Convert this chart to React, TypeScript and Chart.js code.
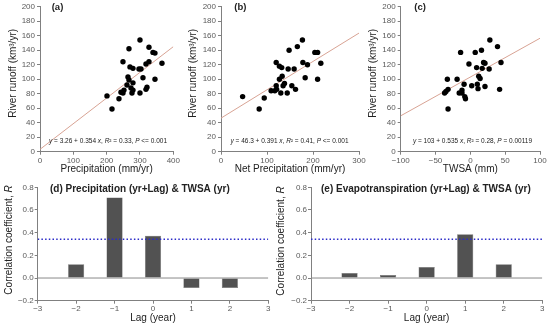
import React, { useEffect, useRef } from 'react';
import { Chart, registerables } from 'chart.js';
Chart.register(...registerables);

const FONT = '"Liberation Sans", Arial, Helvetica, sans-serif';

// ---------- data ----------
// (a) Precipitation vs river runoff
const precipitation = [300, 327, 267, 339, 345, 249, 366, 327, 318, 270, 279, 297, 303, 264, 309, 345, 267, 261, 279, 321, 318, 252, 273, 279, 243, 276, 300, 249, 201, 237, 216];
const runoffA = [154, 144, 142, 137, 136, 124, 122, 124, 121, 117, 115, 114, 114, 103, 102, 100, 99, 92, 95, 89, 86, 85, 88, 85, 82, 81, 81, 81, 77, 73, 59];
const fitA = { intercept: 3.26, slope: 0.354 };

// (b) Net precipitation vs river runoff
const netPrecipitation = [177, 148, 166, 204, 210, 120, 127, 132, 146, 159, 178, 188, 217, 133, 127, 183, 210, 138, 120, 135, 154, 121, 162, 109, 117, 130, 144, 94, 47, 83];
const runoffB = [154, 140, 145, 137, 137, 123, 118, 116, 114, 114, 123, 120, 122, 104, 100, 102, 100, 94, 91, 91, 91, 86, 86, 84, 84, 81, 81, 74, 76, 59];
const fitB = { intercept: 46.3, slope: 0.391 };

// (c) TWSA vs river runoff
const twsa = [28, 39, -14, 7, 16, 19, 21, -2, 9, 17, 27, 44, 12, 14, -33, -19, -9, 2, 10, 11, 21, 42, -12, -16, -12, -8, -7, -32, -35, -37, -32];
const runoffC = [154, 145, 137, 137, 140, 123, 122, 121, 116, 115, 114, 123, 104, 101, 100, 100, 93, 91, 93, 87, 90, 86, 85, 81, 81, 76, 73, 86, 83, 81, 59];
const fitC = { intercept: 103, slope: 0.535 };

// (d), (e) lag correlations
const lags = [-2, -1, 0, 1, 2];
const corrPrecipTwsa = [0.121, 0.711, 0.372, -0.089, -0.089];
const corrEtTwsa = [0.044, 0.027, 0.097, 0.387, 0.121];
const significanceLevel = 0.342;

// ---------- helpers ----------
type Seg = { t: string; it?: boolean };
type TextItem = { segs: Seg[]; x: number; y: number; size: number; bold?: boolean; center?: boolean; rot?: boolean; color?: string };

function makeTextPlugin(items: TextItem[]) {
  return {
    id: 'panelText',
    afterDraw(chart: any) {
      const ctx: CanvasRenderingContext2D = chart.ctx;
      items.forEach((item) => {
        ctx.save();
        const fontOf = (s: Seg) => `${s.it ? 'italic ' : ''}${item.bold ? 'bold ' : ''}${item.size}px ${FONT}`;
        let total = 0;
        const widths = item.segs.map((s) => {
          ctx.font = fontOf(s);
          const w = ctx.measureText(s.t).width;
          total += w;
          return w;
        });
        ctx.translate(item.x, item.y);
        if (item.rot) ctx.rotate(-Math.PI / 2);
        let cx = item.center ? -total / 2 : 0;
        ctx.textBaseline = 'middle';
        ctx.textAlign = 'left';
        ctx.fillStyle = item.color || '#222';
        item.segs.forEach((s, i) => {
          ctx.font = fontOf(s);
          ctx.fillText(s.t, cx, 0);
          cx += widths[i];
        });
        ctx.restore();
      });
    },
  };
}

const minus = (s: string) => s.replace('-', '\u2212');
const AXIS = '#808080';
const TICK = '#5a5a5a';

function fixedAxis(size: number, horizontal: boolean) {
  return (s: any) => {
    if (horizontal) s.height = size;
    else s.width = size;
    s.paddingTop = 0;
    s.paddingBottom = 0;
    s.paddingLeft = 0;
    s.paddingRight = 0;
  };
}

type Geo = { left: number; top: number; w: number; h: number; pad: { left: number; top: number; right: number; bottom: number }; yW: number; xH: number };

function scatterConfig(xs: number[], ys: number[], fit: { intercept: number; slope: number }, xMin: number, xMax: number, xStep: number, xTitle: string, geo: Geo, items: TextItem[]) {
  const pts = xs.map((x, i) => ({ x, y: ys[i] }));
  const line = [xMin, xMax].map((x) => ({ x, y: fit.intercept + fit.slope * x }));
  return {
    type: 'scatter',
    data: {
      datasets: [
        { data: pts, pointRadius: 2.7, pointBackgroundColor: '#000', pointBorderColor: '#000', pointBorderWidth: 0 },
        { type: 'line', data: line, borderColor: '#d8a394', borderWidth: 1, pointRadius: 0, showLine: true, fill: false },
      ],
    },
    options: {
      responsive: false,
      animation: false,
      devicePixelRatio: 1,
      layout: { padding: geo.pad },
      plugins: { legend: { display: false }, tooltip: { enabled: false } },
      scales: {
        x: {
          type: 'linear', min: xMin, max: xMax,
          ticks: { stepSize: xStep, autoSkip: false, maxRotation: 0, padding: 1, color: TICK, font: { family: FONT, size: 8 }, callback: (v: number) => minus(String(v)) },
          grid: { drawOnChartArea: false, drawTicks: true, tickLength: 3, color: AXIS },
          border: { display: true, color: AXIS, width: 1 },
          title: { display: true, text: xTitle, color: '#222', font: { family: FONT, size: 10 }, padding: { top: 0, bottom: 0 } },
          afterFit: fixedAxis(geo.xH, true),
        },
        y: {
          type: 'linear', min: 0, max: 200,
          ticks: { stepSize: 20, autoSkip: false, padding: 2, color: TICK, font: { family: FONT, size: 8 } },
          grid: { drawOnChartArea: false, drawTicks: true, tickLength: 3, color: AXIS },
          border: { display: true, color: AXIS, width: 1 },
          afterFit: fixedAxis(geo.yW, false),
        },
      },
    },
    plugins: [makeTextPlugin(items)],
  };
}

function barConfig(values: number[], geo: Geo, items: TextItem[]) {
  return {
    type: 'bar',
    data: {
      datasets: [
        { type: 'line', data: [{ x: -3, y: significanceLevel }, { x: 3, y: significanceLevel }], borderColor: '#2b2bc8', borderWidth: 1.5, borderDash: [1.5, 2.2], pointRadius: 0, fill: false },
        { type: 'bar', data: lags.map((l, i) => ({ x: l, y: values[i] })), backgroundColor: '#525252', borderColor: '#6a6a6a', borderWidth: 0.5, barPercentage: 0.42, categoryPercentage: 1 },
        { type: 'line', data: [{ x: -3, y: 0 }, { x: 3, y: 0 }], borderColor: '#8a8a8a', borderWidth: 1, pointRadius: 0, fill: false },
      ],
    },
    options: {
      responsive: false,
      animation: false,
      devicePixelRatio: 1,
      layout: { padding: geo.pad },
      plugins: { legend: { display: false }, tooltip: { enabled: false } },
      scales: {
        x: {
          type: 'linear', min: -3, max: 3, offset: false,
          ticks: { stepSize: 1, autoSkip: false, maxRotation: 0, padding: 0, color: TICK, font: { family: FONT, size: 8 }, callback: (v: number) => minus(String(v)) },
          grid: { drawOnChartArea: false, drawTicks: true, tickLength: 3, color: AXIS, offset: false },
          border: { display: true, color: AXIS, width: 1 },
          title: { display: true, text: 'Lag (year)', color: '#222', font: { family: FONT, size: 10 }, padding: { top: 0, bottom: 3.7 } },
          afterFit: fixedAxis(geo.xH, true),
        },
        y: {
          type: 'linear', min: -0.2, max: 0.8,
          ticks: { stepSize: 0.2, autoSkip: false, padding: 1, color: TICK, font: { family: FONT, size: 8 }, callback: (v: number) => minus(Number(v).toFixed(1)) },
          grid: { drawOnChartArea: false, drawTicks: true, tickLength: 3, color: AXIS },
          border: { display: true, color: AXIS, width: 1 },
          afterFit: fixedAxis(geo.yW, false),
        },
      },
    },
    plugins: [makeTextPlugin(items)],
  };
}

const eqSegs = (a: string, b: string, r2: string, p: string): Seg[] => [
  { t: 'y', it: true }, { t: ` = ${a} + ${b} ` }, { t: 'x', it: true }, { t: ', ' },
  { t: 'R', it: true }, { t: `\u00b2 = ${r2}, ` }, { t: 'P', it: true }, { t: ` ${p}` },
];
const runoffTitle: Seg[] = [{ t: 'River runoff (km\u00b3/yr)' }];
const corrTitle: Seg[] = [{ t: 'Correlation coefficient, ' }, { t: 'R', it: true }];

const geoA: Geo = { left: 0, top: 0, w: 185, h: 175, pad: { left: 0, top: 6.7, right: 11.7, bottom: 0 }, yW: 40, xH: 23.3 };
const geoB: Geo = { left: 180, top: 0, w: 190, h: 175, pad: { left: 0, top: 6.7, right: 11, bottom: 0 }, yW: 41, xH: 23.3 };
const geoC: Geo = { left: 362, top: 0, w: 188, h: 175, pad: { left: 0, top: 6.7, right: 10, bottom: 0 }, yW: 38.7, xH: 23.3 };
const geoD: Geo = { left: 0, top: 175, w: 275, h: 153, pad: { left: 0, top: 12.3, right: 6.7, bottom: 0 }, yW: 37.7, xH: 27.3 };
const geoE: Geo = { left: 275, top: 175, w: 275, h: 153, pad: { left: 0, top: 12.3, right: 7.7, bottom: 0 }, yW: 36, xH: 27.3 };

const panels = [
  {
    geo: geoA,
    make: () => scatterConfig(precipitation, runoffA, fitA, 0, 400, 100, 'Precipitation (mm/yr)', geoA, [
      { segs: [{ t: '(a)' }], x: 51.7, y: 7.5, size: 9.5, bold: true },
      { segs: eqSegs('3.26', '0.354', '0.33', '<= 0.001'), x: 108, y: 141, size: 6.5, center: true },
      { segs: runoffTitle, x: 13.3, y: 73.3, size: 10, center: true, rot: true },
    ]),
  },
  {
    geo: geoB,
    make: () => scatterConfig(netPrecipitation, runoffB, fitB, 0, 300, 100, 'Net Precipitation (mm/yr)', geoB, [
      { segs: [{ t: '(b)' }], x: 54.3, y: 7.5, size: 9.5, bold: true },
      { segs: eqSegs('46.3', '0.391', '0.41', '<= 0.001'), x: 109.5, y: 141, size: 6.5, center: true },
      { segs: runoffTitle, x: 13.3, y: 73.3, size: 10, center: true, rot: true },
    ]),
  },
  {
    geo: geoC,
    make: () => scatterConfig(twsa, runoffC, fitC, -100, 100, 50, 'TWSA (mm)', geoC, [
      { segs: [{ t: '(c)' }], x: 52.3, y: 7.5, size: 9.5, bold: true },
      { segs: eqSegs('103', '0.535', '0.28', '= 0.00119'), x: 110.5, y: 141, size: 6.5, center: true },
      { segs: runoffTitle, x: 11.3, y: 73.3, size: 10, center: true, rot: true },
    ]),
  },
  {
    geo: geoD,
    make: () => barConfig(corrPrecipTwsa, geoD, [
      { segs: [{ t: '(d) Precipitation (yr+Lag) & TWSA (yr)' }], x: 50, y: 14.3, size: 10, bold: true },
      { segs: corrTitle, x: 9.3, y: 65, size: 10, center: true, rot: true },
    ]),
  },
  {
    geo: geoE,
    make: () => barConfig(corrEtTwsa, geoE, [
      { segs: [{ t: '(e) Evapotranspiration (yr+Lag) & TWSA (yr)' }], x: 46, y: 14.3, size: 10, bold: true },
      { segs: corrTitle, x: 6.7, y: 66, size: 10, center: true, rot: true },
    ]),
  },
];

function Panel({ geo, make }: { geo: Geo; make: () => any }) {
  const ref = useRef<HTMLCanvasElement | null>(null);
  useEffect(() => {
    if (!ref.current) return;
    const chart = new Chart(ref.current, make());
    return () => chart.destroy();
  }, []);
  return (
    <canvas
      ref={ref}
      width={geo.w}
      height={geo.h}
      style={{ position: 'absolute', left: geo.left, top: geo.top, width: geo.w, height: geo.h }}
    />
  );
}

export default function App() {
  return (
    <div style={{ position: 'fixed', left: 0, top: 0, width: 550, height: 328, background: '#fff', overflow: 'hidden' }}>
      {panels.map((p, i) => (
        <Panel key={i} geo={p.geo} make={p.make} />
      ))}
    </div>
  );
}
